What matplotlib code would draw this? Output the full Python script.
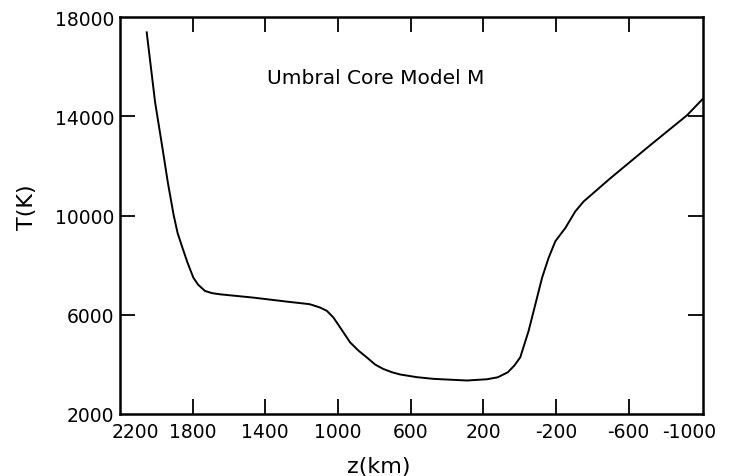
import numpy as np
import matplotlib
matplotlib.use('Agg')
import matplotlib.pyplot as plt
from matplotlib.transforms import ScaledTranslation

# height z (km) and temperature T (K)
z_km = [2053, 2007, 1966, 1936, 1905, 1883, 1856, 1828, 1796, 1770, 1732, 1693, 1649,
        1466, 1282, 1171, 1154, 1098, 1061, 1025, 988, 933, 887, 842, 795, 751, 703,
        657, 565, 474, 290, 180, 120, 65, 29, -4, -50, -87, -124, -160, -197, -252,
        -307, -353, -500, -720, -922, -1010]
T_K = [17386, 14580, 12707, 11303, 10032, 9298, 8697, 8095, 7494, 7213, 6960, 6872, 6825,
       6692, 6531, 6440, 6423, 6291, 6158, 5890, 5489, 4887, 4555, 4286, 3993, 3817, 3684,
       3592, 3484, 3416, 3350, 3400, 3480, 3680, 3950, 4286, 5356, 6423, 7494, 8296, 8965, 9498,
       10169, 10569, 11504, 12840, 14042, 14712]

x_ticks = [2200, 1800, 1400, 1000, 600, 200, -200, -600, -1000]
x_labels = ['2200', '1800', '1400', '1000', '600', '200', '-200', '-600', '-1000']
y_ticks = [2000, 6000, 10000, 14000, 18000]

fig = plt.figure(figsize=(7.3, 4.77), dpi=100)
ax = fig.add_axes([0.1644, 0.130, 0.7986, 0.832])

ax.plot(z_km, T_K, color='black', lw=1.4, solid_joinstyle='round')

ax.set_xlim(2200, -1010)
ax.set_ylim(2000, 18000)

ax.set_xticks(x_ticks)
ax.set_xticklabels(x_labels)
ax.set_yticks(y_ticks)
ax.tick_params(direction='in', length=11, width=1.3, top=True, right=True,
               labelsize=13.5, pad=6)
ax.tick_params(axis='y', pad=4)
for s in ax.spines.values():
    s.set_linewidth(1.8)

# no tick marks at the corners
for t in (ax.xaxis.get_major_ticks()[0], ax.xaxis.get_major_ticks()[-1],
          ax.yaxis.get_major_ticks()[0], ax.yaxis.get_major_ticks()[-1]):
    t.tick1line.set_visible(False)
    t.tick2line.set_visible(False)

# shift edge labels like the original
lbls = ax.get_xticklabels()
lbls[0].set_transform(lbls[0].get_transform() + ScaledTranslation(15/100, 0, fig.dpi_scale_trans))
lbls[-1].set_transform(lbls[-1].get_transform() + ScaledTranslation(-12/100, 0, fig.dpi_scale_trans))

ax.set_xlabel('z(km)', fontsize=16)
ax.xaxis.set_label_coords(0.443, -0.105)
ax.set_ylabel('T(K)', fontsize=16)
ax.yaxis.set_label_coords(-0.142, 0.524)

ax.text(0.252, 0.849, 'Umbral Core Model M', transform=ax.transAxes,
        fontsize=14.5, va='center', ha='left')

fig.savefig('out.png', dpi=100)
